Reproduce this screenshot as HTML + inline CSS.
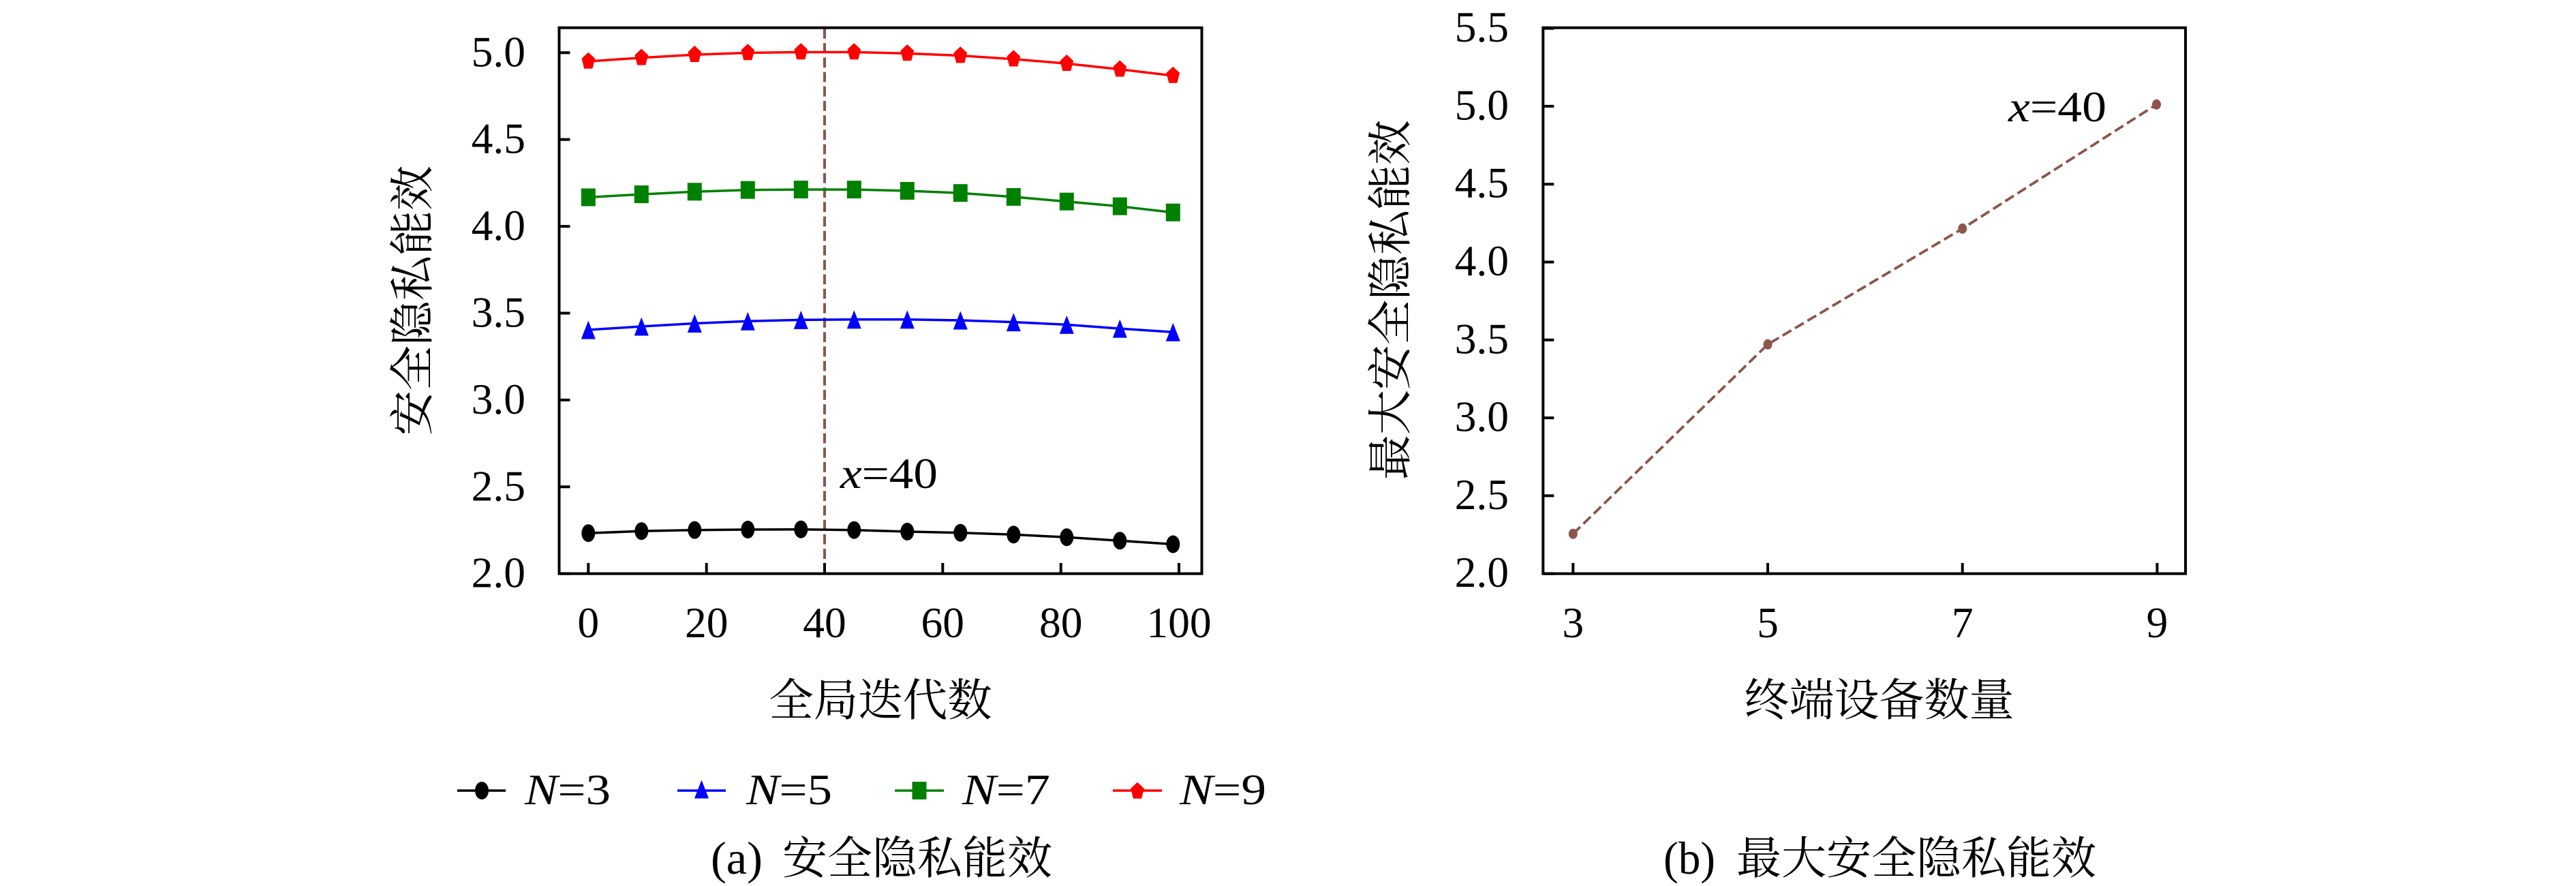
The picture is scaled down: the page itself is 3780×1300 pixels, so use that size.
<!DOCTYPE html>
<html>
<head>
<meta charset="utf-8">
<style>
html,body{margin:0;padding:0;background:#fff;}
svg{display:block;font-family:"Liberation Serif","Noto Serif CJK SC",serif;}
.lat{font-family:"Liberation Serif","DejaVu Serif",serif;font-size:63.5px;fill:#000;}
.cjk{font-family:"Liberation Serif","Noto Serif CJK SC","Noto Sans CJK SC",serif;font-size:66px;fill:#000;}
</style>
</head>
<body>
<svg width="3780" height="1300" viewBox="0 0 3780 1300" xmlns="http://www.w3.org/2000/svg" font-family="Liberation Serif, Noto Serif CJK SC, serif">
<defs>
  <ellipse id="circ" cx="0" cy="0" rx="10" ry="13"/>
  <polygon id="tri" points="0,-13.5 -10.5,13.5 10.5,13.5"/>
  <rect id="sq" x="-10.5" y="-13" width="21" height="26"/>
  <polygon id="pent" points="0,-13.3 -9.8,-4.1 -6.06,10.76 6.06,10.76 9.8,-4.1"/>
  <ellipse id="bdot" cx="0" cy="0" rx="6.5" ry="7.5"/>
</defs>
<rect x="0" y="0" width="3780" height="1300" fill="#fff"/>

<!-- ================= LEFT PLOT ================= -->
<line x1="1210" y1="42" x2="1210" y2="840" stroke="#8c564b" stroke-width="4" stroke-dasharray="14.8 6.4"/>

<polyline fill="none" stroke="#000" stroke-width="3.5" points="863.3,782.3 941.3,779.3 1019.3,777.7 1097.3,777 1175.3,776.7 1253.3,777.7 1331.3,780 1409.3,781.7 1487.3,784.4 1565.3,788.3 1643.3,793.4 1721.3,798.5"/>
<polyline fill="none" stroke="#0000ff" stroke-width="3.5" points="863.3,484 941.3,479 1019.3,474.5 1097.3,471.3 1175.3,469.4 1253.3,468.8 1331.3,468.8 1409.3,470 1487.3,472.6 1565.3,476.4 1643.3,482.1 1721.3,487.2"/>
<polyline fill="none" stroke="#008000" stroke-width="3.5" points="863.3,289.5 941.3,285.1 1019.3,281.3 1097.3,278.7 1175.3,278.1 1253.3,278.1 1331.3,280 1409.3,283.2 1487.3,288.9 1565.3,295.7 1643.3,302.7 1721.3,311.7"/>
<polyline fill="none" stroke="#ff0000" stroke-width="3.5" points="863.3,90 941.3,84.8 1019.3,80.3 1097.3,77.5 1175.3,76.5 1253.3,76.5 1331.3,78.4 1409.3,81.6 1487.3,86.7 1565.3,93.3 1643.3,101.7 1721.3,111"/>

<g fill="#000">
<use href="#circ" x="863.3" y="782.3"/><use href="#circ" x="941.3" y="779.3"/><use href="#circ" x="1019.3" y="777.7"/><use href="#circ" x="1097.3" y="777"/><use href="#circ" x="1175.3" y="776.7"/><use href="#circ" x="1253.3" y="777.7"/><use href="#circ" x="1331.3" y="780"/><use href="#circ" x="1409.3" y="781.7"/><use href="#circ" x="1487.3" y="784.4"/><use href="#circ" x="1565.3" y="788.3"/><use href="#circ" x="1643.3" y="793.4"/><use href="#circ" x="1721.3" y="798.5"/>
</g>
<g fill="#0000ff">
<use href="#tri" x="863.3" y="484"/><use href="#tri" x="941.3" y="479"/><use href="#tri" x="1019.3" y="474.5"/><use href="#tri" x="1097.3" y="471.3"/><use href="#tri" x="1175.3" y="469.4"/><use href="#tri" x="1253.3" y="468.8"/><use href="#tri" x="1331.3" y="468.8"/><use href="#tri" x="1409.3" y="470"/><use href="#tri" x="1487.3" y="472.6"/><use href="#tri" x="1565.3" y="476.4"/><use href="#tri" x="1643.3" y="482.1"/><use href="#tri" x="1721.3" y="487.2"/>
</g>
<g fill="#008000">
<use href="#sq" x="863.3" y="289.5"/><use href="#sq" x="941.3" y="285.1"/><use href="#sq" x="1019.3" y="281.3"/><use href="#sq" x="1097.3" y="278.7"/><use href="#sq" x="1175.3" y="278.1"/><use href="#sq" x="1253.3" y="278.1"/><use href="#sq" x="1331.3" y="280"/><use href="#sq" x="1409.3" y="283.2"/><use href="#sq" x="1487.3" y="288.9"/><use href="#sq" x="1565.3" y="295.7"/><use href="#sq" x="1643.3" y="302.7"/><use href="#sq" x="1721.3" y="311.7"/>
</g>
<g fill="#ff0000">
<use href="#pent" x="863.3" y="90"/><use href="#pent" x="941.3" y="84.8"/><use href="#pent" x="1019.3" y="80.3"/><use href="#pent" x="1097.3" y="77.5"/><use href="#pent" x="1175.3" y="76.5"/><use href="#pent" x="1253.3" y="76.5"/><use href="#pent" x="1331.3" y="78.4"/><use href="#pent" x="1409.3" y="81.6"/><use href="#pent" x="1487.3" y="86.7"/><use href="#pent" x="1565.3" y="93.3"/><use href="#pent" x="1643.3" y="101.7"/><use href="#pent" x="1721.3" y="111"/>
</g>

<rect x="820.5" y="40.7" width="943" height="801" fill="none" stroke="#000" stroke-width="4"/>
<g stroke="#000" stroke-width="4">
<line x1="820.5" y1="841.7" x2="836.5" y2="841.7"/>
<line x1="820.5" y1="714.3" x2="836.5" y2="714.3"/>
<line x1="820.5" y1="586.9" x2="836.5" y2="586.9"/>
<line x1="820.5" y1="459.5" x2="836.5" y2="459.5"/>
<line x1="820.5" y1="332.1" x2="836.5" y2="332.1"/>
<line x1="820.5" y1="204.7" x2="836.5" y2="204.7"/>
<line x1="820.5" y1="77.3" x2="836.5" y2="77.3"/>
<line x1="863.3" y1="841.7" x2="863.3" y2="826"/>
<line x1="1036.7" y1="841.7" x2="1036.7" y2="826"/>
<line x1="1210" y1="841.7" x2="1210" y2="826"/>
<line x1="1383.3" y1="841.7" x2="1383.3" y2="826"/>
<line x1="1556.7" y1="841.7" x2="1556.7" y2="826"/>
<line x1="1730" y1="841.7" x2="1730" y2="826"/>
</g>
<g class="lat" font-family="Liberation Serif, serif" font-size="63.5" text-anchor="end">
<text x="771" y="861.7">2.0</text>
<text x="771" y="734.3">2.5</text>
<text x="771" y="606.9">3.0</text>
<text x="771" y="479.5">3.5</text>
<text x="771" y="352.1">4.0</text>
<text x="771" y="224.7">4.5</text>
<text x="771" y="97.3">5.0</text>
</g>
<g class="lat" font-family="Liberation Serif, serif" font-size="63.5" text-anchor="middle">
<text x="863.3" y="935">0</text>
<text x="1036.7" y="935">20</text>
<text x="1210" y="935">40</text>
<text x="1383.3" y="935">60</text>
<text x="1556.7" y="935">80</text>
<text x="1730" y="935">100</text>
</g>
<text class="lat" font-family="Liberation Serif, serif" x="1233" y="716" textLength="143" lengthAdjust="spacingAndGlyphs"><tspan font-style="italic">x</tspan>=40</text>
<text class="cjk" font-family="Liberation Serif, Noto Serif CJK SC, serif" x="1292" y="1050" text-anchor="middle" style="font-size:65.5px">全局迭代数</text>
<g transform="translate(603,441) rotate(-90)"><text class="cjk" font-family="Liberation Serif, Noto Serif CJK SC, serif" x="0" y="25" text-anchor="middle">安全隐私能效</text></g>

<g stroke-width="3.5">
<line x1="671" y1="1160" x2="742" y2="1160" stroke="#000"/>
<line x1="994" y1="1160" x2="1065" y2="1160" stroke="#0000ff"/>
<line x1="1313" y1="1160" x2="1385" y2="1160" stroke="#008000"/>
<line x1="1633" y1="1160" x2="1705" y2="1160" stroke="#ff0000"/>
</g>
<use href="#circ" x="707" y="1160" fill="#000"/>
<use href="#tri" x="1029.5" y="1158" fill="#0000ff"/>
<use href="#sq" x="1349" y="1160" fill="#008000"/>
<use href="#pent" x="1669" y="1161" fill="#ff0000"/>
<g class="lat" font-family="Liberation Serif, serif" font-size="63.5">
<text x="770" y="1180" textLength="126" lengthAdjust="spacingAndGlyphs"><tspan font-style="italic">N</tspan>=3</text>
<text x="1095" y="1180" textLength="126" lengthAdjust="spacingAndGlyphs"><tspan font-style="italic">N</tspan>=5</text>
<text x="1412" y="1180" textLength="129" lengthAdjust="spacingAndGlyphs"><tspan font-style="italic">N</tspan>=7</text>
<text x="1731" y="1180" textLength="127" lengthAdjust="spacingAndGlyphs"><tspan font-style="italic">N</tspan>=9</text>
</g>

<text class="lat" font-family="Liberation Serif, serif" x="1043" y="1282" textLength="76" lengthAdjust="spacingAndGlyphs" style="font-size:68px">(a)</text>
<text class="cjk" font-family="Liberation Serif, Noto Serif CJK SC, serif" x="1148" y="1282">安全隐私能效</text>

<!-- ================= RIGHT PLOT ================= -->
<polyline fill="none" stroke="#8c564b" stroke-width="3.8" stroke-dasharray="14.8 6.4" points="2308.3,783.3 2594,505.3 2879.7,335.4 3164.5,153.3"/>
<g fill="#8c564b">
<use href="#bdot" x="2308.3" y="783.3"/>
<use href="#bdot" x="2594" y="505.3"/>
<use href="#bdot" x="2879.7" y="335.4"/>
<use href="#bdot" x="3164.5" y="153.3"/>
</g>
<rect x="2264.3" y="40.7" width="942.7" height="801" fill="none" stroke="#000" stroke-width="4"/>
<g stroke="#000" stroke-width="4">
<line x1="2264.3" y1="841.7" x2="2280.3" y2="841.7"/>
<line x1="2264.3" y1="727.4" x2="2280.3" y2="727.4"/>
<line x1="2264.3" y1="613.1" x2="2280.3" y2="613.1"/>
<line x1="2264.3" y1="498.8" x2="2280.3" y2="498.8"/>
<line x1="2264.3" y1="384.5" x2="2280.3" y2="384.5"/>
<line x1="2264.3" y1="270.2" x2="2280.3" y2="270.2"/>
<line x1="2264.3" y1="155.9" x2="2280.3" y2="155.9"/>
<line x1="2264.3" y1="41.6" x2="2280.3" y2="41.6"/>
<line x1="2308.3" y1="841.7" x2="2308.3" y2="826"/>
<line x1="2594" y1="841.7" x2="2594" y2="826"/>
<line x1="2879.7" y1="841.7" x2="2879.7" y2="826"/>
<line x1="3165.4" y1="841.7" x2="3165.4" y2="826"/>
</g>
<g class="lat" font-family="Liberation Serif, serif" font-size="63.5" text-anchor="end">
<text x="2214" y="861.2">2.0</text>
<text x="2214" y="746.9">2.5</text>
<text x="2214" y="632.6">3.0</text>
<text x="2214" y="518.3">3.5</text>
<text x="2214" y="404">4.0</text>
<text x="2214" y="289.7">4.5</text>
<text x="2214" y="175.4">5.0</text>
<text x="2214" y="61.1">5.5</text>
</g>
<g class="lat" font-family="Liberation Serif, serif" font-size="63.5" text-anchor="middle">
<text x="2308.3" y="935">3</text>
<text x="2594" y="935">5</text>
<text x="2879.7" y="935">7</text>
<text x="3165.4" y="935">9</text>
</g>
<text class="lat" font-family="Liberation Serif, serif" x="2947" y="178" textLength="144" lengthAdjust="spacingAndGlyphs"><tspan font-style="italic">x</tspan>=40</text>
<text class="cjk" font-family="Liberation Serif, Noto Serif CJK SC, serif" x="2757.5" y="1050" text-anchor="middle">终端设备数量</text>
<g transform="translate(2038,440) rotate(-90)"><text class="cjk" font-family="Liberation Serif, Noto Serif CJK SC, serif" x="0" y="25" text-anchor="middle">最大安全隐私能效</text></g>

<text class="lat" font-family="Liberation Serif, serif" x="2441" y="1282" textLength="76" lengthAdjust="spacingAndGlyphs" style="font-size:68px">(b)</text>
<text class="cjk" font-family="Liberation Serif, Noto Serif CJK SC, serif" x="2548" y="1282">最大安全隐私能效</text>
</svg>
</body>
</html>
